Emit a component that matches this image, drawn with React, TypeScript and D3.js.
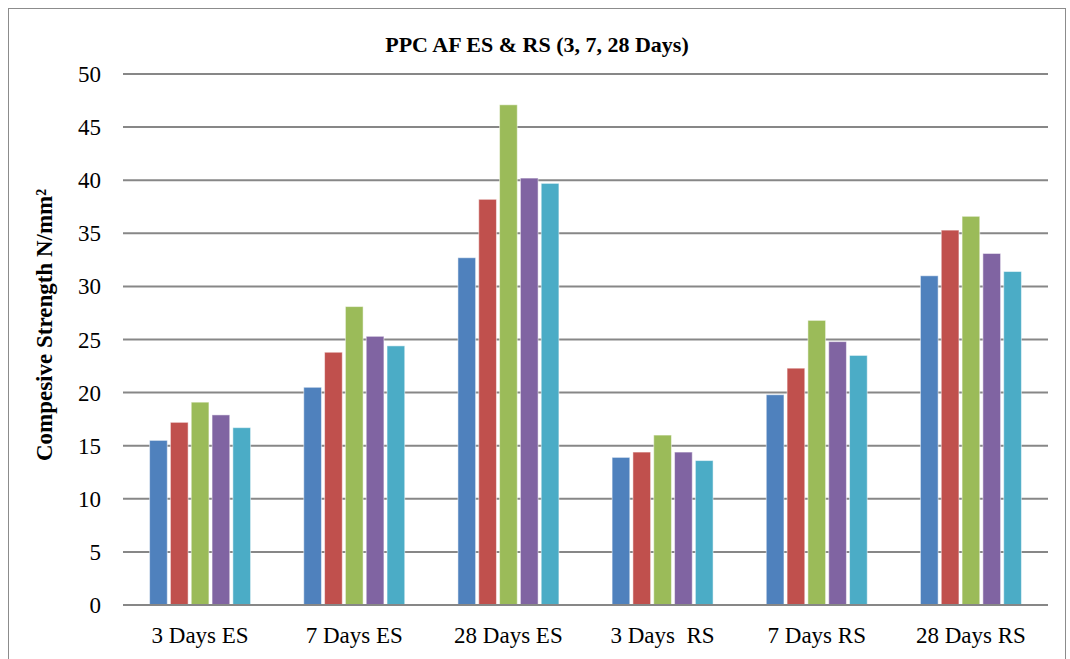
import { scaleBand, scaleLinear } from "d3";

const categories = ["3 Days ES", "7 Days ES", "28 Days ES", "3 Days  RS", "7 Days RS", "28 Days RS"];
const seriesNames = ["Mix 1", "Mix 2", "Mix 3", "Mix 4", "Mix 5"];
const mix1 = [15.5, 20.5, 32.7, 13.9, 19.8, 31.0];
const mix2 = [17.2, 23.8, 38.2, 14.4, 22.3, 35.3];
const mix3 = [19.1, 28.1, 47.1, 16.0, 26.8, 36.6];
const mix4 = [17.9, 25.3, 40.2, 14.4, 24.8, 33.1];
const mix5 = [16.7, 24.4, 39.7, 13.6, 23.5, 31.4];
const yTicks = [0, 5, 10, 15, 20, 25, 30, 35, 40, 45, 50];
const colors = ["#4F81BD", "#C0504D", "#9BBB59", "#8064A2", "#4BACC6"];

const series = [mix1, mix2, mix3, mix4, mix5];

export default function App() {
  const width = 1070;
  const height = 659;
  const left = 123;
  const right = 1048;
  const top = 74;
  const bottom = 605;

  const x0 = scaleBand<string>()
    .domain(categories)
    .range([left, right])
    .paddingInner(0.345)
    .paddingOuter(0.1725);
  const x1 = scaleBand<string>()
    .domain(seriesNames)
    .range([0, x0.bandwidth()])
    .paddingInner(0.15);
  const y = scaleLinear().domain([0, 50]).range([bottom, top]);

  const font = "'Liberation Serif', 'Times New Roman', serif";

  return (
    <svg
      width={width}
      height={height}
      style={{ position: "absolute", left: 0, top: 0, background: "#fff" }}
      fontFamily={font}
    >
      <rect x={8.5} y={8.5} width={1057} height={670} fill="#fff" stroke="#8c8c8c" strokeWidth={1} />

      <text x={537} y={52} textAnchor="middle" fontSize={22} fontWeight="bold" fill="#000">
        PPC AF ES &amp; RS (3, 7, 28 Days)
      </text>

      {yTicks.map((t) => (
        <g key={t}>
          <line x1={left} x2={right} y1={y(t)} y2={y(t)} stroke="#878787" strokeWidth={2} />
          <text x={101} y={y(t)} dy="0.35em" textAnchor="end" fontSize={23} fill="#000">
            {t}
          </text>
        </g>
      ))}

      {categories.map((c, ci) => (
        <g key={c} transform={`translate(${x0(c)},0)`}>
          {series.map((s, si) => (
            <rect
              key={si}
              x={x1(seriesNames[si])}
              y={y(s[ci])}
              width={x1.bandwidth()}
              height={y(0) - y(s[ci])}
              fill={colors[si]}
              stroke="rgba(255,255,255,0.5)"
              strokeWidth={1}
            />
          ))}
        </g>
      ))}

      <line x1={left} x2={right} y1={bottom} y2={bottom} stroke="#878787" strokeWidth={2} />

      {categories.map((c) => (
        <text
          key={c}
          x={(x0(c) ?? 0) + x0.bandwidth() / 2}
          y={643}
          textAnchor="middle"
          fontSize={23}
          fill="#000"
          style={{ whiteSpace: "pre" }}
        >
          {c}
        </text>
      ))}

      <text
        transform={`translate(52,325) rotate(-90)`}
        textAnchor="middle"
        fontSize={23}
        fontWeight="bold"
        fill="#000"
      >
        Compesive Strength N/mm²
      </text>
    </svg>
  );
}
